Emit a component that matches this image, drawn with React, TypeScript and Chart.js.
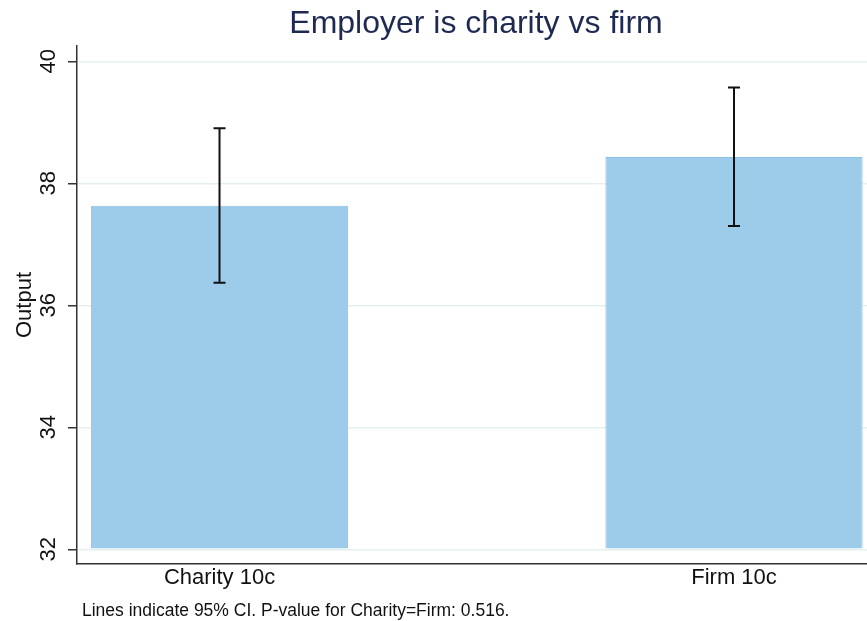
import React, { useEffect, useRef } from "react";
import { Chart, registerables } from "chart.js";

Chart.register(...registerables);

// ---- data ----
const categories = ["Charity 10c", "Firm 10c"];
const xPositions = [1, 2];
const means = [37.63, 38.43];
const ciLow = [36.37, 37.3];
const ciHigh = [38.9, 39.57];
const barBase = 32;
const yTicks = [32, 34, 36, 38, 40];
const titleText = "Employer is charity vs firm";
const yTitle = "Output";
const note = "Lines indicate 95% CI. P-value for Charity=Firm: 0.516.";

const FONT = '"Liberation Sans", Arial, Helvetica, sans-serif';

const decor = {
  id: "decor",
  afterDatasetsDraw(chart: any) {
    const { ctx, scales } = chart;
    const x = scales.x;
    const y = scales.y;
    ctx.save();
    ctx.strokeStyle = "#111111";
    ctx.lineWidth = 2;
    xPositions.forEach((xv, i) => {
      const px = x.getPixelForValue(xv);
      const lo = y.getPixelForValue(ciLow[i]);
      const hi = y.getPixelForValue(ciHigh[i]);
      ctx.beginPath();
      ctx.moveTo(px, lo);
      ctx.lineTo(px, hi);
      ctx.moveTo(px - 6, lo);
      ctx.lineTo(px + 6, lo);
      ctx.moveTo(px - 6, hi);
      ctx.lineTo(px + 6, hi);
      ctx.stroke();
    });
    ctx.restore();
  },
  afterDraw(chart: any) {
    const { ctx, chartArea, scales } = chart;
    const y = scales.y;
    ctx.save();
    // y tick labels (rotated)
    ctx.fillStyle = "#111111";
    ctx.font = `22px ${FONT}`;
    ctx.textAlign = "center";
    ctx.textBaseline = "alphabetic";
    yTicks.forEach((v) => {
      const py = y.getPixelForValue(v);
      ctx.save();
      ctx.translate(chartArea.left - 22, py);
      ctx.rotate(-Math.PI / 2);
      ctx.fillText(String(v), 0, 0);
      ctx.restore();
    });
    // y axis title
    ctx.save();
    ctx.translate(31, (chartArea.top + chartArea.bottom) / 2);
    ctx.rotate(-Math.PI / 2);
    ctx.fillText(yTitle, 0, 0);
    ctx.restore();
    // main title
    ctx.fillStyle = "#1e2a52";
    ctx.font = `32px ${FONT}`;
    ctx.textAlign = "center";
    ctx.fillText(titleText, (chartArea.left + chartArea.right) / 2 + 4, 33);
    // footnote
    ctx.fillStyle = "#111111";
    ctx.font = `17.5px ${FONT}`;
    ctx.textAlign = "left";
    ctx.fillText(note, chartArea.left + 5, 616);
    ctx.restore();
  },
};

export default function App() {
  const canvasRef = useRef<HTMLCanvasElement | null>(null);

  useEffect(() => {
    if (!canvasRef.current) return;
    const chart = new Chart(canvasRef.current, {
      type: "bar",
      data: {
        datasets: [
          {
            label: yTitle,
            data: xPositions.map((xv, i) => ({ x: xv, y: means[i] })),
            base: barBase,
            backgroundColor: "#9dcbea",
            borderColor: "#8cc1e6",
            borderWidth: 1,
            categoryPercentage: 1,
            barPercentage: 0.5,
          } as any,
        ],
      },
      options: {
        animation: false,
        responsive: false,
        layout: { padding: { top: 46, left: 0, right: 0, bottom: 0 } },
        plugins: {
          legend: { display: false },
          tooltip: { enabled: false },
          title: { display: false },
        },
        scales: {
          x: {
            type: "linear",
            offset: false,
            min: 0.723,
            max: 2.2585,
            afterBuildTicks: (s: any) => {
              s.ticks = xPositions.map((v) => ({ value: v }));
            },
            afterFit: (s: any) => {
              s.height = 57;
            },
            ticks: {
              autoSkip: false,
              maxRotation: 0,
              minRotation: 0,
              padding: 1,
              color: "#111111",
              font: { size: 22, family: FONT },
              callback: (v: any) => {
                const i = xPositions.indexOf(Number(v));
                return i >= 0 ? categories[i] : "";
              },
            },
            grid: { display: false, drawTicks: false, offset: false },
            border: { display: true, color: "#333333", width: 1.5 },
          },
          y: {
            type: "linear",
            min: 31.76,
            max: 40.25,
            afterBuildTicks: (s: any) => {
              s.ticks = yTicks.map((v) => ({ value: v }));
            },
            afterFit: (s: any) => {
              s.width = 77;
            },
            ticks: { display: false },
            grid: {
              color: "#e6eff0",
              lineWidth: 1.5,
              drawTicks: true,
              tickLength: 9,
              tickColor: "#333333",
              tickWidth: 1.5,
            },
            border: { display: true, color: "#333333", width: 1.5 },
          },
        },
      },
      plugins: [decor],
    } as any);
    return () => chart.destroy();
  }, []);

  return (
    <div style={{ position: "fixed", left: 0, top: 0, width: 867, height: 621, background: "#ffffff" }}>
      <canvas ref={canvasRef} width={867} height={621} style={{ display: "block" }} />
    </div>
  );
}
